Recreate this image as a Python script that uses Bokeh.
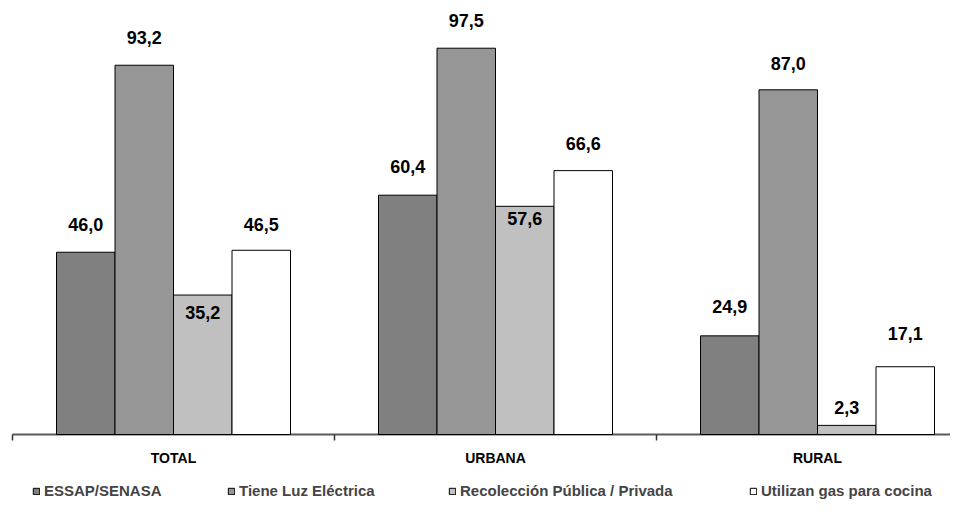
from bokeh.plotting import figure
from bokeh.models import ColumnDataSource, Range1d, Legend, LegendItem
from bokeh.core.properties import value
from bokeh.embed import file_html
from bokeh.resources import INLINE

# ---- data ----
categories = ["TOTAL", "URBANA", "RURAL"]
series_names = ["ESSAP/SENASA", "Tiene Luz Eléctrica",
                "Recolección Pública / Privada", "Utilizan gas para cocina"]
essap = [46.0, 60.4, 24.9]
luz = [93.2, 97.5, 87.0]
recoleccion = [35.2, 57.6, 2.3]
gas = [46.5, 66.6, 17.1]
series_values = [essap, luz, recoleccion, gas]

# ---- style ----
colors = ["#808080", "#969696", "#c0c0c0", "#ffffff"]
# vertical pixel offset of each value label relative to its bar top (per series, per category)
label_dy = [[-28, -29, -29], [-28, -28, -26], [17, 12, -18], [-26, -27, -33]]
legend_x = [32, 227, 448, 749]
FONT = "Liberation Sans"

W, H = 950, 499
group_px = 322.0          # pixels per category group
left_px = 12.0            # x=0 position in figure pixels
base_px = 434.0           # baseline (y=0) position from top in figure pixels
unit_px = 3.962           # pixels per value unit
bar_w = 58.5 / group_px

x_range = Range1d(-left_px / group_px, (W - left_px) / group_px)
y_range = Range1d(-(H - base_px) / unit_px, base_px / unit_px)

p = figure(width=W, height=H, x_range=x_range, y_range=y_range,
           x_axis_type=None, y_axis_type=None, toolbar_location=None,
           output_backend="svg", min_border=0, outline_line_color=None)
p.grid.visible = False
p.background_fill_color = "white"
p.border_fill_color = "white"

n = len(categories)
# baseline and boundary ticks
p.segment(x0=[0], y0=[0], x1=[n], y1=[0], line_color="#5a5a5a", line_width=2)
tick_len = 6 / unit_px
p.segment(x0=list(range(n)), y0=[0] * n, x1=list(range(n)), y1=[-tick_len] * n,
          line_color="#333333", line_width=1.5)

items = []
for i, (name, vals) in enumerate(zip(series_names, series_values)):
    xs = [c + 0.5 + (i - 1.5) * bar_w for c in range(n)]
    src = ColumnDataSource(dict(
        x=xs, top=vals,
        label=[f"{v:.1f}".replace(".", ",") for v in vals],
        dy=label_dy[i]))
    r = p.vbar(x="x", top="top", bottom=0, width=bar_w, source=src,
               fill_color=colors[i], line_color="black", line_width=1)
    p.text(x="x", y="top", text="label", y_offset="dy", source=src,
           text_align="center", text_baseline="middle",
           text_font=value(FONT), text_font_style="bold",
           text_font_size="18px", text_color="black")
    items.append(LegendItem(label=name, renderers=[r]))

# category labels
p.text(x=[c + 0.5 for c in range(n)], y=[0] * n, text=categories, y_offset=23,
       text_align="center", text_baseline="middle", text_font=value(FONT),
       text_font_style="bold", text_font_size="14px", text_color="black")

for item, lx in zip(items, legend_x):
    lg = Legend(items=[item], location=(lx, 0), orientation="horizontal",
                padding=0, margin=0, border_line_color=None,
                background_fill_alpha=0, glyph_width=8, glyph_height=8,
                label_standoff=4, label_height=14, label_text_font=FONT,
                label_text_font_style="bold", label_text_font_size="15px")
    p.add_layout(lg)

open("out.html", "w").write(file_html(p, INLINE))
